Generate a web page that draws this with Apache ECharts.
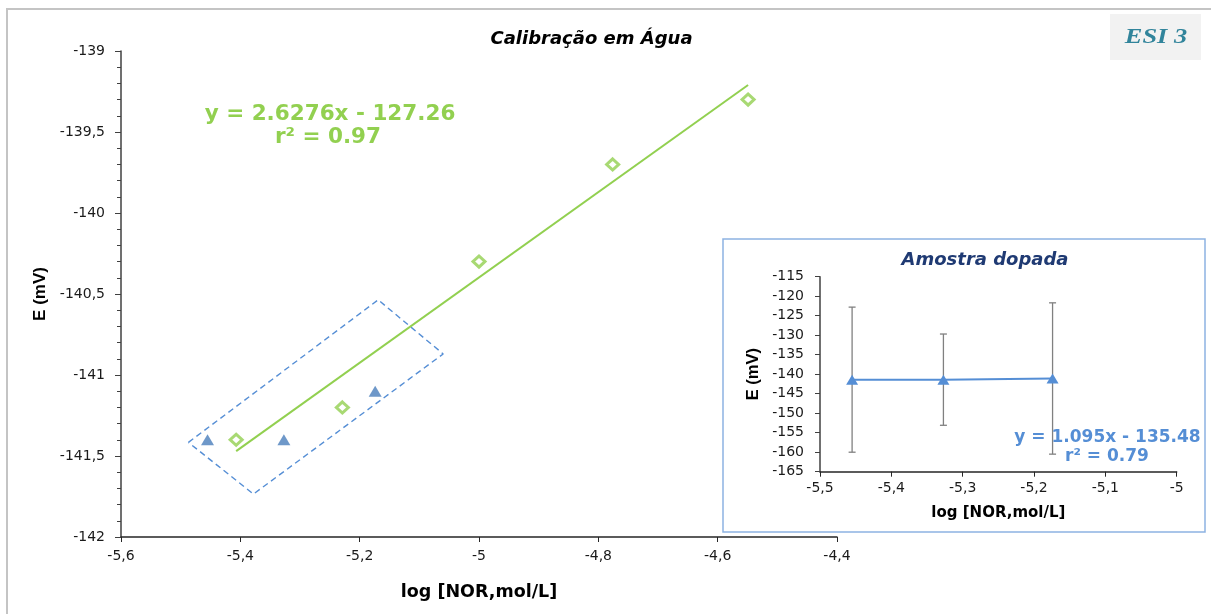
<!DOCTYPE html>
<html>
<head>
<meta charset="utf-8">
<script src="https://cdn.jsdelivr.net/npm/echarts@6/dist/echarts.min.js"></script>
<style>
html,body{margin:0;padding:0;background:#fff;}
#c{width:1211px;height:614px;}
</style>
</head>
<body>
<div id="c"></div>
<script>
// Calibration in water (green diamonds)
const calibX = [-5.407, -5.229, -5.0, -4.776, -4.549];
const calibE = [-141.4, -141.2, -140.3, -139.7, -139.3];
// Calibration trend line endpoints
const trendX = [-5.407, -4.549];
const trendE = [-141.47, -139.21];
// Spiked sample (blue triangles)
const sampleX = [-5.455, -5.327, -5.174];
const sampleE = [-141.4, -141.4, -141.1];
const sampleErr = [18.6, 11.7, 19.4];
// Dashed annotation box corners (data coords)
const boxX = [-5.487, -5.169, -5.060, -5.378, -5.487];
const boxE = [-141.416, -140.536, -140.870, -141.735, -141.416];
// Texts
const mainTitle = 'Calibração em Água';
const insetTitle = 'Amostra dopada';
const eqMain = ['y = 2.6276x - 127.26', 'r² = 0.97'];
const eqInset = ['y = 1.095x - 135.48', 'r² = 0.79'];
const xName = 'log [NOR,mol/L]';
const yName = 'E (mV)';
const badge = 'ESI 3';

const GREEN = '#92D050';
const BLUE = '#4A7EBB';
const LBLUE = '#558ED5';
const comma = v => String(+v.toFixed(2)).replace('.', ',');
const zip = (a, b) => a.map((v, i) => [v, b[i]]);

const chart = echarts.init(document.getElementById('c'), null, {renderer: 'canvas'});
const labelStyle = {color: '#1a1a1a', fontSize: 14, fontFamily: 'DejaVu Sans'};

chart.setOption({
  animation: false,
  grid: [
    {left: 121, top: 51, width: 716, height: 486},
    {left: 820, top: 276.7, width: 356.7, height: 195}
  ],
  xAxis: [
    {
      gridIndex: 0, type: 'value', min: -5.6, max: -4.4, interval: 0.2,
      axisLine: {show: true, onZero: false, lineStyle: {color: '#262626', width: 1.5}},
      axisTick: {show: true, length: 5, lineStyle: {color: '#262626'}},
      splitLine: {show: false},
      axisLabel: Object.assign({margin: 12, formatter: comma}, labelStyle),
      name: xName, nameLocation: 'middle', nameGap: 46,
      nameTextStyle: {fontFamily: 'DejaVu Sans', fontWeight: 'bold', fontSize: 17.5, color: '#000'}
    },
    {
      gridIndex: 1, type: 'value', min: -5.5, max: -5, interval: 0.1,
      axisLine: {show: true, onZero: false, lineStyle: {color: '#262626', width: 1.5}},
      axisTick: {show: true, length: 5, lineStyle: {color: '#262626'}},
      splitLine: {show: false},
      axisLabel: Object.assign({margin: 10, formatter: comma}, labelStyle),
      name: xName, nameLocation: 'middle', nameGap: 34,
      nameTextStyle: {fontFamily: 'DejaVu Sans', fontWeight: 'bold', fontSize: 15, color: '#000'}
    }
  ],
  yAxis: [
    {
      gridIndex: 0, type: 'value', min: -142, max: -139, interval: 0.5,
      axisLine: {show: true, onZero: false, lineStyle: {color: '#404040', width: 1.5}},
      axisTick: {show: true, length: 6, lineStyle: {color: '#404040'}},
      minorTick: {show: true, splitNumber: 5, length: 4, lineStyle: {color: '#404040'}},
      splitLine: {show: false},
      axisLabel: Object.assign({margin: 16, formatter: comma}, labelStyle),
      name: yName, nameLocation: 'middle', nameGap: 70, nameRotate: 90,
      nameTextStyle: {fontFamily: 'Liberation Sans', fontWeight: 'bold', fontSize: 17, color: '#000'}
    },
    {
      gridIndex: 1, type: 'value', min: -165, max: -115, interval: 5,
      axisLine: {show: true, onZero: false, lineStyle: {color: '#404040', width: 1.5}},
      axisTick: {show: true, length: 5, lineStyle: {color: '#404040'}},
      splitLine: {show: false},
      axisLabel: Object.assign({margin: 16, formatter: comma}, labelStyle),
      name: yName, nameLocation: 'middle', nameGap: 58, nameRotate: 90,
      nameTextStyle: {fontFamily: 'Liberation Sans', fontWeight: 'bold', fontSize: 16.5, color: '#000'}
    }
  ],
  series: [
    {
      type: 'line', xAxisIndex: 0, yAxisIndex: 0, data: zip(boxX, boxE),
      showSymbol: false, symbol: 'none', silent: true, z: 1,
      lineStyle: {color: LBLUE, width: 1.4, type: [6, 4]}
    },
    {
      type: 'line', xAxisIndex: 0, yAxisIndex: 0, data: zip(trendX, trendE),
      symbol: 'none', silent: true, z: 2,
      lineStyle: {color: GREEN, width: 2}
    },
    {
      type: 'scatter', xAxisIndex: 0, yAxisIndex: 0, data: zip(calibX, calibE),
      symbol: 'diamond', symbolSize: [12, 11], z: 3,
      itemStyle: {color: '#fff', borderColor: GREEN, borderWidth: 3}
    },
    {
      type: 'scatter', xAxisIndex: 0, yAxisIndex: 0, data: zip(sampleX, sampleE),
      symbol: 'triangle', symbolSize: [13, 11], z: 3,
      itemStyle: {color: BLUE}
    },
    {
      type: 'custom', xAxisIndex: 1, yAxisIndex: 1, z: 2, silent: true,
      data: sampleX.map((x, i) => [x, sampleE[i] + sampleErr[i], sampleE[i] - sampleErr[i]]),
      renderItem: function (params, api) {
        const top = api.coord([api.value(0), api.value(1)]);
        const bot = api.coord([api.value(0), api.value(2)]);
        const hw = 3.5;
        const st = {stroke: '#808080', lineWidth: 1.3};
        return {type: 'group', children: [
          {type: 'line', shape: {x1: top[0], y1: top[1], x2: bot[0], y2: bot[1]}, style: st},
          {type: 'line', shape: {x1: top[0] - hw, y1: top[1], x2: top[0] + hw, y2: top[1]}, style: st},
          {type: 'line', shape: {x1: bot[0] - hw, y1: bot[1], x2: bot[0] + hw, y2: bot[1]}, style: st}
        ]};
      }
    },
    {
      type: 'line', xAxisIndex: 1, yAxisIndex: 1, data: zip(sampleX, sampleE),
      symbol: 'triangle', symbolSize: [12, 10], showSymbol: true, z: 4,
      lineStyle: {color: LBLUE, width: 2},
      itemStyle: {color: LBLUE}
    }
  ],
  graphic: {
    elements: [
      {type: 'rect', z: -10, shape: {x: 7, y: 9, width: 1400, height: 800},
       style: {fill: '#fff', stroke: '#C4C4C4', lineWidth: 2}},
      {type: 'rect', z: -5, shape: {x: 723, y: 239, width: 482, height: 293},
       style: {fill: '#fff', stroke: '#8DB3E2', lineWidth: 1.5}},
      {type: 'rect', z: -5, shape: {x: 1110, y: 14, width: 91, height: 46},
       style: {fill: '#F2F2F2'}},
      {type: 'text', z: 10, x: 1156, y: 37, scaleX: 1.2,
       style: {text: badge, fill: '#31849B', font: 'italic bold 22px "Liberation Serif"', textAlign: 'center', textVerticalAlign: 'middle'}},
      {type: 'text', z: 10, x: 591.5, y: 39,
       style: {text: mainTitle, fill: '#000', font: 'italic bold 18px "DejaVu Sans"', textAlign: 'center', textVerticalAlign: 'middle'}},
      {type: 'text', z: 10, x: 985, y: 260,
       style: {text: insetTitle, fill: '#1F3A73', font: 'italic bold 18px "DejaVu Sans"', textAlign: 'center', textVerticalAlign: 'middle'}},
      {type: 'text', z: 10, x: 330, y: 114,
       style: {text: eqMain[0], fill: GREEN, font: 'bold 21.5px "DejaVu Sans"', textAlign: 'center', textVerticalAlign: 'middle'}},
      {type: 'text', z: 10, x: 328, y: 137,
       style: {text: eqMain[1], fill: GREEN, font: 'bold 21.5px "DejaVu Sans"', textAlign: 'center', textVerticalAlign: 'middle'}},
      {type: 'text', z: 10, x: 1107.5, y: 438,
       style: {text: eqInset[0], fill: LBLUE, font: 'bold 17px "DejaVu Sans"', textAlign: 'center', textVerticalAlign: 'middle'}},
      {type: 'text', z: 10, x: 1107, y: 457,
       style: {text: eqInset[1], fill: LBLUE, font: 'bold 17px "DejaVu Sans"', textAlign: 'center', textVerticalAlign: 'middle'}}
    ]
  }
});
</script>
</body>
</html>
